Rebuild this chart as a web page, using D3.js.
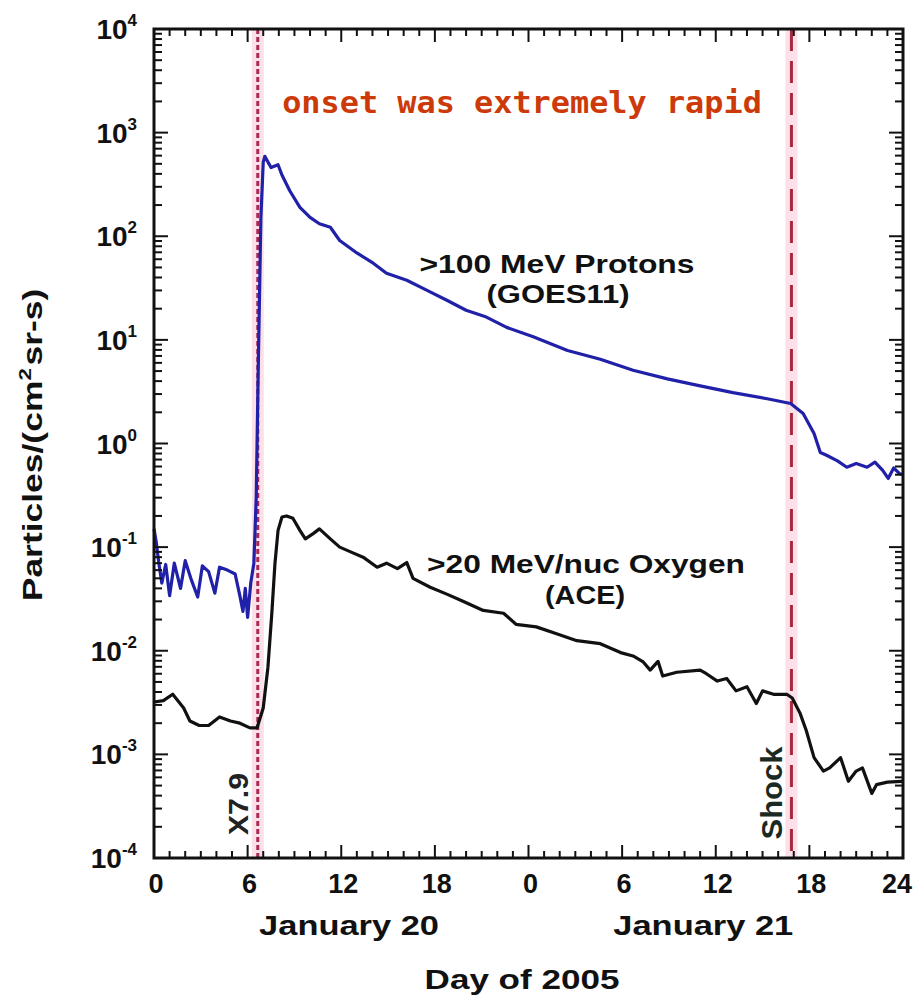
<!DOCTYPE html>
<html>
<head>
<meta charset="utf-8">
<script src="https://cdn.jsdelivr.net/npm/d3@7"></script>
<style>
body { margin: 0; background: #fff; }
text { font-family: "Liberation Sans", Arial, sans-serif; font-weight: bold; fill: #111; }
</style>
</head>
<body>
<svg id="canvas" width="916" height="1000"></svg>
<script>
// hours since 00:00 UT January 20, 2005
const protonHours = [0, 0.15, 0.3, 0.5, 0.75, 1.0, 1.3, 1.7, 2.0, 2.4, 2.8, 3.1, 3.5, 3.9, 4.2, 4.7, 5.2, 5.5, 5.7, 5.85, 6.0, 6.2, 6.4,
    6.55, 6.7, 6.85, 7.0, 7.1, 7.5, 7.95, 8.2, 8.7, 9.35, 10.0, 10.6, 11.3, 11.9, 13.0, 14.05, 14.9, 16.2, 17.5, 18.8, 20.0,
    21.3, 22.6, 24.3, 26.5, 28.6, 30.7, 32.9, 35.0, 37.1, 39.3, 40.8, 41.6, 42.3, 42.7, 43.1, 43.8, 44.4, 45.0, 45.7, 46.2,
    46.7, 47.05, 47.4, 47.8, 48.0];
const protonFlux = [0.15, 0.11, 0.072, 0.045, 0.068, 0.034, 0.07, 0.04, 0.074, 0.048, 0.033, 0.066, 0.058, 0.036, 0.064, 0.06, 0.055, 0.034, 0.024, 0.04, 0.021, 0.045, 0.07,
    0.3, 8, 150, 520, 590, 460, 490, 390, 275, 190, 152, 132, 122, 91, 69, 55, 44, 37.6, 30, 24, 19.3,
    16.6, 13.2, 10.7, 7.9, 6.5, 5.1, 4.2, 3.6, 3.1, 2.7, 2.43, 1.95, 1.25, 0.82, 0.77, 0.68, 0.59, 0.64, 0.59, 0.66,
    0.55, 0.46, 0.58, 0.51, 0.5];

const oxygenHours = [0, 0.6, 1.2, 1.9, 2.3, 2.9, 3.5, 4.2, 4.9, 5.5, 6.15, 6.6, 7.0, 7.3, 7.55, 7.75, 7.95, 8.2, 8.5, 8.9,
    9.35, 9.7, 10.2, 10.6, 11.3, 11.9, 12.6, 13.4, 14.3, 14.9, 15.6, 16.2, 16.6, 17.7, 18.8, 19.8, 21.1, 22.4, 23.2, 24.5,
    25.8, 27.1, 28.6, 29.9, 30.7, 31.35, 31.8, 32.3, 32.6, 33.5, 35.0, 35.4, 36.1, 36.7, 37.3, 38.0, 38.6, 39.0, 39.7,
    40.55, 40.9, 41.4, 41.8, 42.3, 42.9, 43.3, 44.0, 44.5, 45.0, 45.4, 46.0, 46.3, 47.0, 47.9, 48.0];
const oxygenFlux = [0.0032, 0.0033, 0.0038, 0.0028, 0.0021, 0.0019, 0.0019, 0.0023, 0.0021, 0.002, 0.0018, 0.0018, 0.0028, 0.0069, 0.023, 0.069, 0.145, 0.195, 0.2, 0.19,
    0.145, 0.12, 0.135, 0.15, 0.12, 0.1, 0.09, 0.08, 0.064, 0.07, 0.062, 0.071, 0.05, 0.041, 0.035, 0.030, 0.0245, 0.023, 0.018, 0.017,
    0.0146, 0.0125, 0.0117, 0.0096, 0.0089, 0.0078, 0.0065, 0.0079, 0.0057, 0.0062, 0.0065, 0.006, 0.0051, 0.0054, 0.0041, 0.0045, 0.0031, 0.0041, 0.0038,
    0.0038, 0.0035, 0.0025, 0.0017, 0.00093, 0.00069, 0.00074, 0.00093, 0.00055, 0.00069, 0.00074, 0.00042, 0.00051, 0.00054, 0.00055, 0.00055];

const xTickHours = [0, 6, 12, 18, 24, 30, 36, 42, 48];
const xTickLabels = ['0', '6', '12', '18', '0', '6', '12', '18', '24'];
const yExponents = [-4, -3, -2, -1, 0, 1, 2, 3, 4];
const dayLabels = ['January 20', 'January 21'];
const dayCenters = [12.5, 35.2];
const eventHours = [6.65, 40.85];
const eventLabels = ['X7.9', 'Shock'];

const svg = d3.select('#canvas');
const x = d3.scaleLinear().domain([0, 48]).range([154, 903]);
const y = d3.scaleLog().domain([1e-4, 1e4]).range([858, 29]);
const yTop = y.range()[1], yBot = y.range()[0], xLeft = x.range()[0], xRight = x.range()[1];

// stretch a text horizontally (in its own frame) to a given width
function fit(sel, w) {
    sel.each(function () {
        const len = this.getComputedTextLength();
        d3.select(this).attr('transform', `scale(${w / len},1)`);
    });
    return sel;
}
function label(txt, cx, cy, rot, size, w, family) {
    const g = svg.append('g').attr('transform', `translate(${cx},${cy}) rotate(${rot})`);
    const t = g.append('text').attr('text-anchor', 'middle').style('font-size', size + 'px').text(txt);
    if (family) t.style('font-family', family);
    if (w) fit(t, w);
    return t;
}

// event markers
const evg = svg.append('g');
evg.selectAll('line.halo').data(eventHours).enter().append('line')
    .attr('class', 'halo')
    .attr('x1', d => x(d)).attr('x2', d => x(d))
    .attr('y1', yTop).attr('y2', yBot)
    .attr('stroke', '#fbe0e8').attr('stroke-width', 12);
evg.selectAll('line.ev').data(eventHours).enter().append('line')
    .attr('class', 'ev')
    .attr('x1', d => x(d)).attr('x2', d => x(d))
    .attr('y1', yTop).attr('y2', yBot)
    .attr('stroke', (d, i) => i == 0 ? '#a8285a' : '#a82a40')
    .attr('stroke-width', 3)
    .attr('stroke-dasharray', (d, i) => i == 0 ? '5,3' : '22,10');

// data curves
const line = d3.line().x(d => x(d[0])).y(d => y(d[1]));
svg.append('path').datum(d3.zip(protonHours, protonFlux))
    .attr('d', line).attr('fill', 'none')
    .attr('stroke', '#2020a8').attr('stroke-width', 3.2).attr('stroke-linejoin', 'round');
svg.append('path').datum(d3.zip(oxygenHours, oxygenFlux))
    .attr('d', line).attr('fill', 'none')
    .attr('stroke', '#111').attr('stroke-width', 3.2).attr('stroke-linejoin', 'round');

// frame
svg.append('rect').attr('x', xLeft).attr('y', yTop)
    .attr('width', xRight - xLeft).attr('height', yBot - yTop)
    .attr('fill', 'none').attr('stroke', '#111').attr('stroke-width', 3);

// x ticks, bottom and top, hourly minor / 6-hour major
const hours = d3.range(0, 49);
const tg = svg.append('g').attr('stroke', '#111').attr('stroke-width', 2);
tg.selectAll('line.xb').data(hours).enter().append('line')
    .attr('x1', d => x(d)).attr('x2', d => x(d))
    .attr('y1', yBot).attr('y2', d => yBot - (d % 6 == 0 ? 13 : 7));
tg.selectAll('line.xt').data(hours).enter().append('line')
    .attr('x1', d => x(d)).attr('x2', d => x(d))
    .attr('y1', yTop).attr('y2', d => yTop + (d % 6 == 0 ? 13 : 7));

// y ticks, left and right
let yt = [];
for (let e = -4; e < 4; e++)
    for (let m = 1; m < 10; m++) yt.push({ v: m * Math.pow(10, e), major: m == 1 });
yt.push({ v: 1e4, major: true });
tg.selectAll('line.yl').data(yt).enter().append('line')
    .attr('y1', d => y(d.v)).attr('y2', d => y(d.v))
    .attr('x1', xLeft).attr('x2', d => xLeft + (d.major ? 14 : 8));
tg.selectAll('line.yr').data(yt).enter().append('line')
    .attr('y1', d => y(d.v)).attr('y2', d => y(d.v))
    .attr('x1', xRight).attr('x2', d => xRight - (d.major ? 14 : 8));

// tick labels
svg.selectAll('text.xl').data(xTickHours).enter().append('text')
    .attr('x', d => Math.min(x(d) + 2, 897)).attr('y', 893)
    .attr('text-anchor', 'middle').style('font-size', '27px')
    .text((d, i) => xTickLabels[i]);

const yl = svg.selectAll('text.yl').data(yExponents).enter().append('text')
    .attr('x', 137).attr('y', d => y(Math.pow(10, d)) + 10)
    .attr('text-anchor', 'end').style('font-size', '28px');
yl.append('tspan').text('10');
yl.append('tspan').attr('dy', -13).style('font-size', '17px').text(d => d < 0 ? '-' + (-d) : d);

// day labels and axis titles
dayLabels.forEach((d, i) => label(d, x(dayCenters[i]), 935, 0, 28, 180));
label('Day of 2005', 522, 989, 0, 28, 195);

const yg = svg.append('g').attr('transform', 'translate(42,445) rotate(-90)');
const ytitle = yg.append('text').attr('text-anchor', 'middle').style('font-size', '27px');
ytitle.append('tspan').text('Particles/(cm');
ytitle.append('tspan').attr('dy', -11).style('font-size', '17px').text('2');
ytitle.append('tspan').attr('dy', 11).attr('dx', 2).text('sr-s)');
fit(ytitle, 310);

// curve labels
label('>100 MeV Protons', 557, 273, 0, 25, 275);
label('(GOES11)', 558, 303, 0, 25, 143);
label('>20 MeV/nuc Oxygen', 586, 573, 0, 25, 318);
label('(ACE)', 585, 604, 0, 25, 80);

// event labels
label(eventLabels[0], x(eventHours[0]) - 10, 804, -90, 27, 62).style('fill', '#222');
label(eventLabels[1], x(eventHours[1]) - 9, 793, -90, 30, 93).style('fill', '#1a2a22');

// annotation
label('onset was extremely rapid', 522, 113, 0, 30, 480, '"DejaVu Sans Mono", monospace')
    .style('fill', '#cc3a0a');
</script>
</body>
</html>
